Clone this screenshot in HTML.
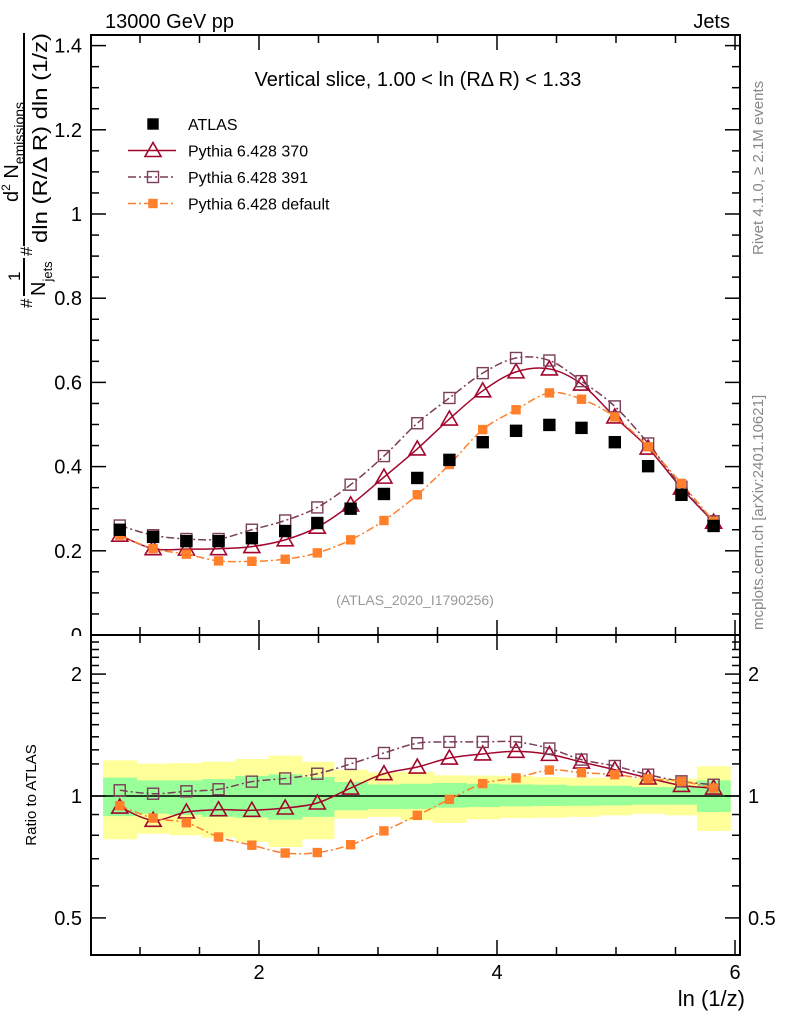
<!DOCTYPE html>
<html><head><meta charset="utf-8"><style>
html,body{margin:0;padding:0;background:#fff;}
svg{display:block;font-family:"Liberation Sans",sans-serif;}
</style></head><body>
<svg id="c" width="786" height="1024" viewBox="0 0 786 1024" xmlns="http://www.w3.org/2000/svg">
<g id="ylab" fill="#000">
  <text transform="translate(47,243) rotate(-90)" font-size="20" textLength="210" lengthAdjust="spacingAndGlyphs">dln (R/Δ R) dln (1/z)</text>
  <line x1="24" y1="246" x2="24" y2="33" stroke="#000" stroke-width="2"/>
  <text transform="translate(18,202) rotate(-90)" font-size="20">d<tspan font-size="12" dy="-8">2</tspan><tspan dy="8"> N</tspan><tspan font-size="14" dy="6">emissions</tspan></text>
  <text transform="translate(32,256) rotate(-90)" font-size="17">#</text>
  <text transform="translate(32,308) rotate(-90)" font-size="17">#</text>
  <text transform="translate(20,281) rotate(-90)" font-size="17">1</text>
  <line x1="24" y1="296" x2="24" y2="258" stroke="#000" stroke-width="2"/>
  <text transform="translate(45,296) rotate(-90)" font-size="20">N<tspan font-size="13" dy="7">jets</tspan></text>
</g>
<text x="105" y="28" font-size="20">13000 GeV pp</text>
<text x="730" y="28" font-size="20" text-anchor="end">Jets</text>
<text transform="translate(763,255) rotate(-90)" font-size="15" fill="#888">Rivet 4.1.0, ≥ 2.1M events</text>
<text transform="translate(763,630) rotate(-90)" font-size="15" fill="#888">mcplots.cern.ch [arXiv:2401.10621]</text>
<text x="418" y="86" font-size="20" text-anchor="middle">Vertical slice, 1.00 &lt; ln (RΔ R) &lt; 1.33</text>
<text x="415" y="605" font-size="14" fill="#999" text-anchor="middle">(ATLAS_2020_I1790256)</text>
<text x="745" y="1006" font-size="22" text-anchor="end">ln (1/z)</text>
<g id="main"></g>
<g id="ratio"></g>
<text transform="translate(36,795) rotate(-90)" font-size="15" text-anchor="middle">Ratio to ATLAS</text>
<g id="legend"></g>
</svg>
<script>
const xVals=[0.83,1.11,1.39,1.66,1.94,2.22,2.49,2.77,3.05,3.33,3.60,3.88,4.16,4.44,4.71,4.99,5.27,5.55,5.82];
const atlas=[0.25,0.233,0.223,0.223,0.23,0.247,0.266,0.30,0.335,0.373,0.416,0.458,0.485,0.499,0.492,0.458,0.401,0.333,0.259];
const py370=[0.237,0.205,0.204,0.205,0.21,0.226,0.256,0.309,0.375,0.442,0.513,0.580,0.625,0.632,0.596,0.518,0.444,0.349,0.268];
const py391=[0.26,0.237,0.228,0.228,0.25,0.272,0.303,0.357,0.425,0.503,0.563,0.622,0.658,0.652,0.603,0.543,0.455,0.352,0.27];
const pyDef=[0.237,0.205,0.192,0.176,0.175,0.18,0.195,0.226,0.272,0.333,0.405,0.488,0.535,0.575,0.56,0.518,0.447,0.36,0.27];
const r370=[0.939,0.871,0.913,0.925,0.922,0.934,0.961,1.046,1.135,1.179,1.241,1.27,1.289,1.267,1.213,1.161,1.108,1.062,1.046];
const r391=[1.033,1.013,1.027,1.039,1.085,1.105,1.135,1.2,1.277,1.35,1.36,1.36,1.36,1.31,1.23,1.186,1.129,1.087,1.066];
const rDef=[0.946,0.882,0.859,0.792,0.756,0.723,0.725,0.758,0.82,0.896,0.981,1.073,1.108,1.159,1.142,1.129,1.103,1.087,1.046];
const yelUp=[1.225,1.202,1.206,1.215,1.234,1.258,1.215,1.161,1.144,1.148,1.125,1.123,1.121,1.114,1.11,1.11,1.104,1.104,1.184];
const yelLo=[0.782,0.807,0.8,0.789,0.77,0.748,0.782,0.879,0.888,0.871,0.858,0.876,0.882,0.884,0.888,0.896,0.904,0.896,0.82];
const grnUp=[1.11,1.093,1.093,1.101,1.121,1.131,1.114,1.083,1.068,1.072,1.077,1.072,1.068,1.066,1.06,1.06,1.052,1.052,1.093];
const grnLo=[0.892,0.904,0.898,0.888,0.884,0.874,0.888,0.922,0.929,0.929,0.936,0.939,0.943,0.945,0.946,0.948,0.952,0.952,0.913];
const mainTicks=[0,0.2,0.4,0.6,0.8,1,1.2,1.4];
const mainTickLabels=["0","0.2","0.4","0.6","0.8","1","1.2","1.4"];
const ratioTicks=[0.5,1,2];
const ratioTickLabels=["0.5","1","2"];
const xTicks=[2,4,6];
const xTickLabels=["2","4","6"];

const NS="http://www.w3.org/2000/svg";
const L=91,R=740,MT=35,MB=635,RT=635,RB=955;
const X=v=>259+(v-2)*119;
const Y=v=>635-v*421;
const YR=r=>796-405*Math.log10(r);
function mk(p,tag,at){const e=document.createElementNS(NS,tag);for(const k in at)e.setAttribute(k,at[k]);p.appendChild(e);return e;}
const main=document.getElementById('main'),ratio=document.getElementById('ratio'),leg=document.getElementById('legend');
const binW=xVals[1]-xVals[0];
function edges(i){return [X(xVals[i]-binW/2),X(xVals[i]+binW/2)];}
function smooth(pts){let d=`M${pts[0][0]},${pts[0][1]}`;for(let i=0;i<pts.length-1;i++){const p0=pts[Math.max(i-1,0)],p1=pts[i],p2=pts[i+1],p3=pts[Math.min(i+2,pts.length-1)];d+=` C${p1[0]+(p2[0]-p0[0])/6},${p1[1]+(p2[1]-p0[1])/6} ${p2[0]-(p3[0]-p1[0])/6},${p2[1]-(p3[1]-p1[1])/6} ${p2[0]},${p2[1]}`;}return d;}
function tri(g,x,y,c){return mk(g,'polygon',{points:`${x},${y-8} ${x-8},${y+6} ${x+8},${y+6}`,fill:'none',stroke:c,'stroke-width':1.6});}
function sq(g,x,y,c,fill,s){return mk(g,'rect',{x:x-s/2,y:y-s/2,width:s,height:s,fill:fill?c:'none',stroke:c,'stroke-width':1.4});}
const C370='#a3062c',C391='#7b3d58',CDEF='#ff7f2a';
const series=[
 {name:'py370',vals:py370,rv:r370,c:C370,dash:'',mark:'tri'},
 {name:'py391',vals:py391,rv:r391,c:C391,dash:'8,3,2,3',mark:'osq'},
 {name:'pydefault',vals:pyDef,rv:rDef,c:CDEF,dash:'8,3,2,3',mark:'fsq'}];
function drawSeries(g,vals,fy,s){
  const p=mk(g,'path',{d:smooth(vals.map((v,i)=>[X(xVals[i]),fy(v)])),fill:'none',stroke:s.c,'stroke-width':1.5,'stroke-dasharray':s.dash});
  
  
  vals.forEach((v,i)=>{let m;
    if(s.mark==='tri')m=tri(g,X(xVals[i]),fy(v),s.c);
    else if(s.mark==='osq')m=sq(g,X(xVals[i]),fy(v),s.c,false,11);
    else m=sq(g,X(xVals[i]),fy(v),s.c,true,8);
    
    });
}
mainTicks.forEach((t,i)=>{const tx=mk(main,'text',{x:82,y:Y(t)+7,'font-size':20,'text-anchor':'end'});tx.textContent=mainTickLabels[i];
  
  });
series.forEach(s=>drawSeries(main,s.vals,Y,s));
atlas.forEach((v,i)=>{const m=sq(main,X(xVals[i]),Y(v),'#000',true,11);
  
  });
const mf=mk(main,'rect',{x:L,y:MT,width:R-L,height:MB-MT,fill:'none',stroke:'#000','stroke-width':2});


for(let v=0;v<=1.45;v+=0.05){const y=Y(v);if(y<MT)continue;const maj=Math.abs(v/0.2-Math.round(v/0.2))<0.01;const l=maj?15:8;
  mk(main,'line',{x1:L,y1:y,x2:L+l,y2:y,stroke:'#000','stroke-width':1.5});mk(main,'line',{x1:R-l,y1:y,x2:R,y2:y,stroke:'#000','stroke-width':1.5});}
function xt(g,top,bot){for(let v=1;v<=6;v+=0.5){const x=X(v);if(x<L||x>R)continue;const l=(v%2===0)?15:8;
  mk(g,'line',{x1:x,y1:top,x2:x,y2:top+l,stroke:'#000','stroke-width':1.5});mk(g,'line',{x1:x,y1:bot-l,x2:x,y2:bot,stroke:'#000','stroke-width':1.5});}}
xt(main,MT,MB);
mk(ratio,'rect',{x:60,y:RT+1,width:R-60,height:RB-RT,fill:'#fff'});
xVals.forEach((v,i)=>{const [a,b]=edges(i);
  const y=mk(ratio,'rect',{x:a,y:YR(yelUp[i]),width:b-a+0.5,height:YR(yelLo[i])-YR(yelUp[i]),fill:'#ffff99'});
  
  });
xVals.forEach((v,i)=>{const [a,b]=edges(i);
  const g=mk(ratio,'rect',{x:a,y:YR(grnUp[i]),width:b-a+0.5,height:YR(grnLo[i])-YR(grnUp[i]),fill:'#99ff99'});
  
  });
mk(ratio,'line',{x1:L,y1:YR(1),x2:R,y2:YR(1),stroke:'#000','stroke-width':1.5});
series.forEach(s=>drawSeries(ratio,s.rv,YR,s));
const rf=mk(ratio,'rect',{x:L,y:RT,width:R-L,height:RB-RT,fill:'none',stroke:'#000','stroke-width':2});


xt(ratio,RT,RB);
[0.5,0.6,0.7,0.8,0.9,1,1.2,1.3,1.4,1.5,1.6,1.7,1.8,1.9,2,2.1,2.2,2.3,2.4].forEach(r=>{const y=YR(r);const maj=(r===0.5||r===1||r===2);const l=maj?15:8;
  mk(ratio,'line',{x1:L,y1:y,x2:L+l,y2:y,stroke:'#000','stroke-width':1.5});mk(ratio,'line',{x1:R-l,y1:y,x2:R,y2:y,stroke:'#000','stroke-width':1.5});});
ratioTicks.forEach((t,i)=>{const a=mk(ratio,'text',{x:82,y:YR(t)+7,'font-size':20,'text-anchor':'end'});a.textContent=ratioTickLabels[i];
  
  
  const b=mk(ratio,'text',{x:748,y:YR(t)+7,'font-size':20});b.textContent=ratioTickLabels[i];
  
  });
xTicks.forEach((t,i)=>{const a=mk(ratio,'text',{x:X(t),y:979,'font-size':20,'text-anchor':'middle'});a.textContent=xTickLabels[i];
  
  });
const lg=[{t:'ATLAS',s:null},{t:'Pythia 6.428 370',s:series[0]},{t:'Pythia 6.428 391',s:series[1]},{t:'Pythia 6.428 default',s:series[2]}];
lg.forEach((e,i)=>{const y=124+i*26.5;const g=mk(leg,'g',{});
  
  
  if(!e.s){sq(g,153,y,'#000',true,10);}
  else{mk(g,'line',{x1:128,y1:y,x2:176,y2:y,stroke:e.s.c,'stroke-width':1.5,'stroke-dasharray':e.s.dash});
    if(e.s.mark==='tri')tri(g,153,y,e.s.c);else if(e.s.mark==='osq')sq(g,153,y,e.s.c,false,11);else sq(g,153,y,e.s.c,true,8);}
  const t=mk(g,'text',{x:188,y:y+6,'font-size':16});t.textContent=e.t;});
</script>
</body></html>
